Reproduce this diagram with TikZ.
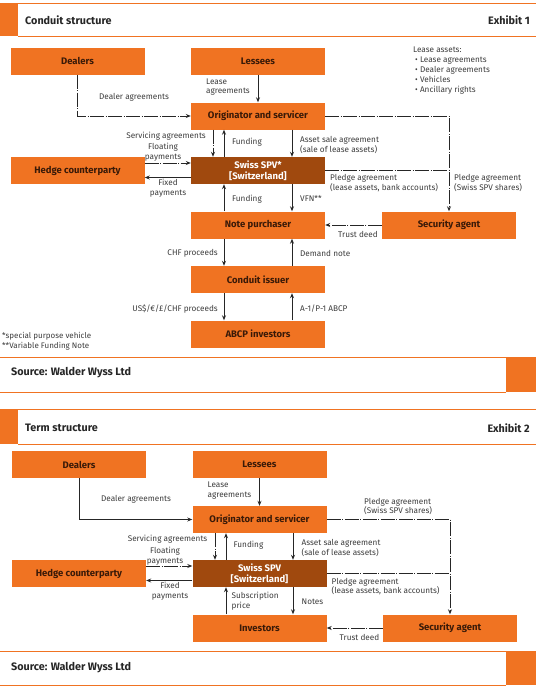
\documentclass[tikz,border=0pt]{standalone}
\usepackage{fontspec}
\setmainfont{Fira Sans}
\usetikzlibrary{arrows.meta}
\definecolor{exorange}{HTML}{F07322}
\definecolor{exbrown}{HTML}{A0490E}
\definecolor{boxtext}{HTML}{3A1A08}
\definecolor{lbltext}{HTML}{3C3C3C}
\begin{document}
\begin{tikzpicture}[x=1pt,y=-1pt,>={Stealth[length=5pt,width=4pt]},
	box/.style={fill=exorange,minimum width=134pt,minimum height=27pt,inner sep=0pt,text=boxtext,font=\fontsize{9.5}{10.6}\selectfont\bfseries},
	spvbox/.style={box,fill=exbrown,text=white,align=center},
	lbl/.style={inner sep=0pt,text=lbltext,font=\fontsize{8.2}{9.8}\selectfont},
	ddline/.style={draw=black!85,line width=0.8pt,dash pattern=on 14pt off 1.5pt on 1pt off 1.5pt},
	sline/.style={draw=black!85,line width=0.8pt},
	head/.style={inner sep=0pt,text=black!85,font=\fontsize{10.8}{12}\selectfont\bfseries}]
	\useasboundingbox (0,0) rectangle (536,689);

	% Exhibit 1 frame
	\fill[exorange] (0,3) rectangle (18,36);
	\draw[exorange,line width=0.9pt] (18,3) -- (536,3);
	\draw[exorange,line width=0.9pt] (18,36) -- (536,36);
	\node[head,anchor=west] (title1) at (25,20) {Conduit structure};
	\node[head,anchor=east] (exh1) at (530,20) {Exhibit 1};
	\fill[exorange] (506,357) rectangle (536,392);
	\draw[exorange,line width=0.9pt] (0,357) -- (506,357);
	\draw[exorange,line width=0.9pt] (0,392) -- (506,392);
	\node[head,anchor=west] (src1) at (11,373) {Source: Walder Wyss Ltd};

	% Exhibit 1 boxes
	\node[box] (dealers) at (77.5,61) {Dealers};
	\node[box] (lessees) at (258,61) {Lessees};
	\node[box] (orig) at (258,116) {Originator and servicer};
	\node[spvbox] (spv) at (258,170.5) {Swiss SPV*\\{[}Switzerland{]}};
	\node[box] (hedge) at (77.5,170.5) {Hedge counterparty};
	\node[box] (notep) at (258,225) {Note purchaser};
	\node[box] (secag) at (449,225) {Security agent};
	\node[box] (issuer) at (258,279.5) {Conduit issuer};
	\node[box] (abcp) at (258,334) {ABCP investors};

	\node[lbl,anchor=north west,align=left,font=\fontsize{8.2}{9.8}\selectfont] (assets) at (413,47) {Lease assets:\\
		\hspace*{2pt}\textbullet\ Lease agreements\\
		\hspace*{2pt}\textbullet\ Dealer agreements\\
		\hspace*{2pt}\textbullet\ Vehicles\\
		\hspace*{2pt}\textbullet\ Ancillary rights};

	% Exhibit 1 connectors
	\draw[sline,->] (lessees.south) -- (orig.north);
	\draw[ddline,->] (dealers.south) |- (orig.west);
	\draw[ddline,->] (orig.east) -| (secag.north);
	\draw[ddline] (spv.east) -- (spv.east -| secag.north);
	\draw[ddline,->] ([xshift=-45pt]orig.south) -- ([xshift=-45pt]spv.north);
	\draw[sline,->] ([xshift=-34pt]spv.north) -- ([xshift=-34pt]orig.south);
	\draw[sline,->] ([xshift=34pt]orig.south) -- ([xshift=34pt]spv.north);
	\draw[ddline,->] ([yshift=7.5pt]hedge.east) -- ([yshift=7.5pt]spv.west);
	\draw[sline,->] ([yshift=-7pt]spv.west) -- ([yshift=-7pt]hedge.east);
	\draw[sline,->] ([xshift=-34pt]notep.north) -- ([xshift=-34pt]spv.south);
	\draw[sline,->] ([xshift=34pt]spv.south) -- ([xshift=34pt]notep.north);
	\draw[ddline,->] (secag.west) -- (notep.east);
	\draw[sline,->] ([xshift=-34pt]notep.south) -- ([xshift=-34pt]issuer.north);
	\draw[sline,->] ([xshift=34pt]issuer.north) -- ([xshift=34pt]notep.south);
	\draw[sline,->] ([xshift=-34pt]issuer.south) -- ([xshift=-34pt]abcp.north);
	\draw[sline,->] ([xshift=34pt]abcp.north) -- ([xshift=34pt]issuer.south);

	% Exhibit 1 labels
	\node[lbl,anchor=west,align=left] (leaselbl) at (206,87) {Lease\\agreements};
	\node[lbl] (dealerlbl) at (134,97) {Dealer agreements};
	\node[lbl,anchor=east] (servlbl) at (206,136) {Servicing agreements};
	\node[lbl,anchor=west] (fundlbl) at (232,142) {Funding};
	\node[lbl,anchor=west,align=left] (salelbl) at (300,145) {Asset sale agreement\\(sale of lease assets)};
	\node[lbl,align=center] (floatlbl) at (163,152.5) {Floating\\payments};
	\node[lbl,align=center] (fixlbl) at (168,188.5) {Fixed\\payments};
	\node[lbl,anchor=west,align=left] (pledgelbl) at (330,183) {Pledge agreement\\(lease assets, bank accounts)};
	\node[lbl,anchor=west,align=left] (shareslbl) at (454,183) {Pledge agreement\\(Swiss SPV shares)};
	\node[lbl,anchor=west] (fundlblb) at (232,199) {Funding};
	\node[lbl,anchor=west] (vfnlbl) at (300,198) {VFN**};
	\node[lbl,anchor=west] (trustlbl) at (338,234) {Trust deed};
	\node[lbl,anchor=east] (chflbl) at (218,253) {CHF proceeds};
	\node[lbl,anchor=west] (demandlbl) at (300,253) {Demand note};
	\node[lbl,anchor=east] (proclbl) at (218,309) {US\$/€/£/CHF proceeds};
	\node[lbl,anchor=west] (abcplbl) at (300,309) {A-1/P-1 ABCP};
	\node[lbl,anchor=west,align=left,font=\fontsize{8}{10}\selectfont] (notes) at (2,341) {*special purpose vehicle\\**Variable Funding Note};

	% Exhibit 2 frame
	\fill[exorange] (0,409) rectangle (18,444);
	\draw[exorange,line width=0.9pt] (18,409) -- (536,409);
	\draw[exorange,line width=0.9pt] (18,444) -- (536,444);
	\node[head,anchor=west] (title2) at (25,428) {Term structure};
	\node[head,anchor=east] (exh2) at (530,428) {Exhibit 2};
	\fill[exorange] (506,651) rectangle (536,685);
	\draw[exorange,line width=0.9pt] (0,651) -- (506,651);
	\draw[exorange,line width=0.9pt] (0,685) -- (506,685);
	\node[head,anchor=west] (src2) at (11,668) {Source: Walder Wyss Ltd};

	% Exhibit 2 boxes
	\node[box] (dealersb) at (79,464.5) {Dealers};
	\node[box] (lesseesb) at (259.5,464.5) {Lessees};
	\node[box] (origb) at (259.5,519.5) {Originator and servicer};
	\node[spvbox] (spvb) at (259.5,573.5) {Swiss SPV\\{[}Switzerland{]}};
	\node[box] (hedgeb) at (79,573.5) {Hedge counterparty};
	\node[box] (invest) at (259.5,628) {Investors};
	\node[box] (secagb) at (450,628) {Security agent};

	% Exhibit 2 connectors
	\draw[sline,->] (lesseesb.south) -- (origb.north);
	\draw[sline,->] (dealersb.south) |- (origb.west);
	\draw[ddline,->] (origb.east) -| (secagb.north);
	\draw[ddline] (spvb.east) -- (spvb.east -| secagb.north);
	\draw[ddline,->] ([xshift=-44.5pt]origb.south) -- ([xshift=-44.5pt]spvb.north);
	\draw[sline,->] ([xshift=-33.5pt]spvb.north) -- ([xshift=-33.5pt]origb.south);
	\draw[sline,->] ([xshift=33.5pt]origb.south) -- ([xshift=33.5pt]spvb.north);
	\draw[ddline,->] ([yshift=7.5pt]hedgeb.east) -- ([yshift=7.5pt]spvb.west);
	\draw[sline,->] ([yshift=-7pt]spvb.west) -- ([yshift=-7pt]hedgeb.east);
	\draw[sline,->] ([xshift=-33.5pt]invest.north) -- ([xshift=-33.5pt]spvb.south);
	\draw[sline,->] ([xshift=33.5pt]spvb.south) -- ([xshift=33.5pt]invest.north);
	\draw[ddline,->] (secagb.west) -- (invest.east);

	% Exhibit 2 labels
	\node[lbl,anchor=west,align=left] (leaselblb) at (207.5,490.5) {Lease\\agreements};
	\node[lbl] (dealerlblb) at (136,499) {Dealer agreements};
	\node[lbl,anchor=west,align=left] (shareslblb) at (364,506.5) {Pledge agreement\\(Swiss SPV shares)};
	\node[lbl,anchor=east] (servlblb) at (207.5,539) {Servicing agreements};
	\node[lbl,anchor=west] (fundlblc) at (233.5,545) {Funding};
	\node[lbl,anchor=west,align=left] (salelblb) at (301.5,548) {Asset sale agreement\\(sale of lease assets)};
	\node[lbl,align=center] (floatlblb) at (165,556) {Floating\\payments};
	\node[lbl,align=center] (fixlblb) at (170,591.5) {Fixed\\payments};
	\node[lbl,anchor=west,align=left] (pledgelblb) at (331.5,586.5) {Pledge agreement\\(lease assets, bank accounts)};
	\node[lbl,anchor=west,align=left] (subslbl) at (231.5,601) {Subscription\\price};
	\node[lbl,anchor=west] (noteslbl) at (301.5,602) {Notes};
	\node[lbl,anchor=west] (trustlblb) at (339.5,637) {Trust deed};
\end{tikzpicture}
\end{document}
